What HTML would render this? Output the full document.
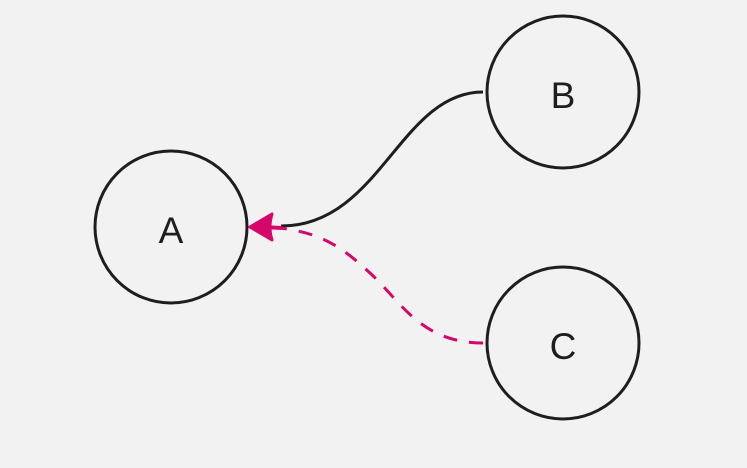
<!DOCTYPE html>
<html><head><style>
html,body{margin:0;padding:0;background:#f2f2f2;}
svg{display:block;}
text{font-family:"Liberation Sans","DejaVu Sans",sans-serif;font-size:37px;fill:#1e1e1e;}
</style></head><body>
<svg width="747" height="468" viewBox="0 0 747 468">
<rect width="747" height="468" fill="#f2f2f2"/>
<g fill="none" stroke="#1e1e1e" stroke-width="3">
<circle cx="171" cy="227" r="76"/>
<circle cx="563" cy="92" r="76"/>
<circle cx="563" cy="343" r="76"/>
<path d="M483,92 C400,92 380,226 281,226"/>
</g>
<path d="M483,343 C420,343 400,300 370,273 C340,245 320,233 280,228" fill="none" stroke="#d6076a" stroke-width="3" stroke-dasharray="14,12"/>
<path d="M282,228 L262,227" stroke="#d6076a" stroke-width="4"/>
<path d="M250,227 L272,214 Q268,227 272,240 Z" fill="#d6076a" stroke="#d6076a" stroke-width="3" stroke-linejoin="round"/>
<text x="171" y="243" text-anchor="middle">A</text>
<text x="563" y="108" text-anchor="middle">B</text>
<text x="563" y="359" text-anchor="middle">C</text>
</svg>
</body></html>
